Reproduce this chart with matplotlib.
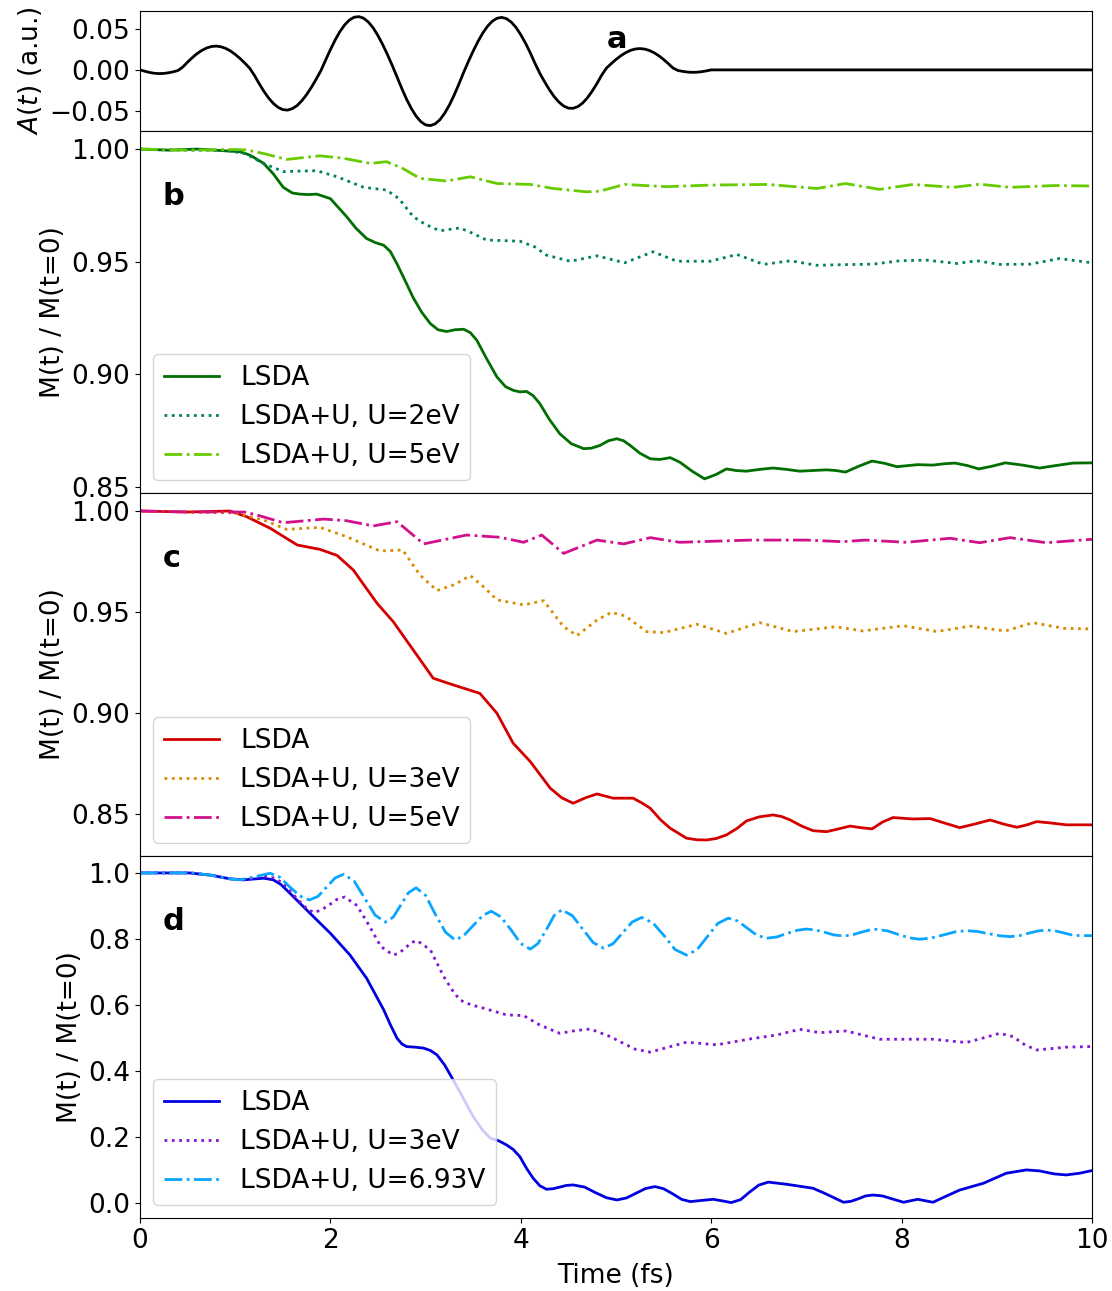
import matplotlib
matplotlib.use("Agg")
import matplotlib.pyplot as plt

# vector potential of the pump pulse (a.u.), sampled every 0.05 fs
pulseTime = [0.0, 0.05, 0.1, 0.15, 0.2, 0.25, 0.3, 0.35, 0.4, 0.45,
             0.5, 0.55, 0.6, 0.65, 0.7, 0.75, 0.8, 0.85, 0.9, 0.95,
             1.0, 1.05, 1.1, 1.15, 1.2, 1.25, 1.3, 1.35, 1.4, 1.45,
             1.5, 1.55, 1.6, 1.65, 1.7, 1.75, 1.8, 1.85, 1.9, 1.95,
             2.0, 2.05, 2.1, 2.15, 2.2, 2.25, 2.3, 2.35, 2.4, 2.45,
             2.5, 2.55, 2.6, 2.65, 2.7, 2.75, 2.8, 2.85, 2.9, 2.95,
             3.0, 3.05, 3.1, 3.15, 3.2, 3.25, 3.3, 3.35, 3.4, 3.45,
             3.5, 3.55, 3.6, 3.65, 3.7, 3.75, 3.8, 3.85, 3.9, 3.95,
             4.0, 4.05, 4.1, 4.15, 4.2, 4.25, 4.3, 4.35, 4.4, 4.45,
             4.5, 4.55, 4.6, 4.65, 4.7, 4.75, 4.8, 4.85, 4.9, 4.95,
             5.0, 5.05, 5.1, 5.15, 5.2, 5.25, 5.3, 5.35, 5.4, 5.45,
             5.5, 5.55, 5.6, 5.65, 5.7, 5.75, 5.8, 5.85, 5.9, 5.95,
             6.0, 10.0]
pulseA = [0.0, -0.0016, -0.0031, -0.0041, -0.0045, -0.0043, -0.0035, -0.0023, -0.0007, 0.0036,
          0.0095, 0.015, 0.0199, 0.0238, 0.0267, 0.0285, 0.029, 0.0282, 0.0262, 0.0231,
          0.0189, 0.014, 0.0084, 0.0024, -0.0063, -0.0164, -0.0259, -0.0341, -0.0408, -0.0456,
          -0.0484, -0.049, -0.0472, -0.0435, -0.0376, -0.0301, -0.0213, -0.0114, -0.001, 0.012,
          0.0247, 0.0364, 0.0467, 0.0549, 0.0608, 0.0642, 0.0649, 0.0629, 0.0582, 0.0511,
          0.0417, 0.0307, 0.0185, 0.0053, -0.0086, -0.0226, -0.0357, -0.047, -0.0563, -0.0631,
          -0.067, -0.0679, -0.0658, -0.0608, -0.0529, -0.0428, -0.0307, -0.0172, -0.0029, 0.0104,
          0.023, 0.0346, 0.0448, 0.0531, 0.0593, 0.0629, 0.064, 0.0624, 0.0582, 0.0517,
          0.0428, 0.0325, 0.0206, 0.0078, -0.0042, -0.0145, -0.0241, -0.0325, -0.0392, -0.044,
          -0.0466, -0.0468, -0.0447, -0.0404, -0.034, -0.0259, -0.0166, -0.0063, 0.0022, 0.0076,
          0.0127, 0.0172, 0.0209, 0.0237, 0.0254, 0.026, 0.0254, 0.0237, 0.0209, 0.0172,
          0.0127, 0.0076, 0.0022, -0.0007, -0.0018, -0.0026, -0.003, -0.0028, -0.0022, -0.0012,
          0.0, 0.0]

# panel b: normalised moment, t in fs
bLsdaT = [0, 0.3, 0.6, 0.9, 1.05, 1.155, 1.2, 1.3, 1.4, 1.505, 1.6, 1.68, 1.77, 1.856, 2.0,
          2.17, 2.27, 2.38, 2.47, 2.56, 2.63, 2.7, 2.78, 2.87, 2.96, 3.05, 3.13, 3.22, 3.31,
          3.4, 3.47, 3.54, 3.64, 3.75, 3.84, 3.92, 3.99, 4.06, 4.13, 4.2, 4.3, 4.41, 4.53,
          4.66, 4.74, 4.83, 4.92, 5.01, 5.08, 5.15, 5.25, 5.36, 5.46, 5.57, 5.67, 5.8, 5.93,
          6.05, 6.16, 6.26, 6.37, 6.51, 6.65, 6.79, 6.93, 7.07, 7.21, 7.31, 7.41, 7.55, 7.69,
          7.82, 7.95, 8.17, 8.33, 8.45, 8.56, 8.69, 8.81, 8.95, 9.09, 9.27, 9.45, 9.62, 9.8, 10.0]
bLsdaM = [1.0, 0.9995, 1.0, 0.9992, 0.9988, 0.9973, 0.9962, 0.9936, 0.989, 0.983, 0.9805,
          0.98, 0.9798, 0.98, 0.978, 0.97, 0.9648, 0.9603, 0.9585, 0.9573, 0.9545, 0.949, 0.942,
          0.934, 0.9275, 0.9225, 0.9198, 0.919, 0.9198, 0.92, 0.9185, 0.915, 0.907, 0.8988,
          0.8945, 0.8929, 0.8922, 0.8924, 0.8905, 0.887, 0.88, 0.8736, 0.8692, 0.867, 0.8672,
          0.8684, 0.8705, 0.8714, 0.8705, 0.8684, 0.865, 0.8625, 0.8622, 0.863, 0.861, 0.857,
          0.8536, 0.8555, 0.858, 0.8573, 0.857, 0.8578, 0.8584, 0.8578, 0.857, 0.8573, 0.8576,
          0.8573, 0.8566, 0.8592, 0.8615, 0.8605, 0.859, 0.8599, 0.8597, 0.8603, 0.8606, 0.8595,
          0.858, 0.8592, 0.8607, 0.8597, 0.8584, 0.8595, 0.8606, 0.8607]

bU2T = [0, 0.5, 0.9, 1.1, 1.3, 1.505, 1.856, 2.07, 2.35, 2.59, 2.72, 2.87, 3.0, 3.15, 3.36,
        3.5, 3.64, 3.99, 4.15, 4.27, 4.52, 4.8, 5.09, 5.39, 5.64, 5.99, 6.27, 6.55, 6.83,
        7.11, 7.4, 7.7, 7.98, 8.26, 8.58, 8.79, 9.03, 9.35, 9.66, 10.0]
bU2M = [1.0, 0.9995, 0.9995, 0.998, 0.9936, 0.99, 0.9904, 0.9877, 0.983, 0.9818, 0.978, 0.97,
        0.9665, 0.9637, 0.965, 0.9625, 0.9596, 0.9591, 0.9565, 0.9529, 0.9502, 0.9526, 0.9495,
        0.9544, 0.9502, 0.9502, 0.9532, 0.9488, 0.9504, 0.9484, 0.9487, 0.9489, 0.9504, 0.9507,
        0.9492, 0.9504, 0.9488, 0.9489, 0.9514, 0.9495]

bU5T = [0, 0.5, 1.0, 1.12, 1.3, 1.54, 1.89, 2.14, 2.42, 2.59, 2.76, 2.94, 3.22, 3.47, 3.75,
        4.1, 4.34, 4.69, 4.83, 5.09, 5.53, 5.99, 6.59, 7.11, 7.41, 7.77, 8.12, 8.54, 8.82,
        9.14, 9.6, 10.0]
bU5M = [1.0, 0.9995, 0.9998, 0.9996, 0.998, 0.9954, 0.997, 0.9959, 0.9936, 0.9944, 0.9914,
        0.987, 0.9858, 0.9877, 0.9847, 0.9843, 0.9825, 0.981, 0.9813, 0.9843, 0.9833, 0.984,
        0.9843, 0.9825, 0.9847, 0.9821, 0.9843, 0.983, 0.9844, 0.983, 0.9838, 0.9836]

# panel c
cLsdaT = [0, 0.5, 0.945, 1.12, 1.37, 1.65, 1.89, 2.07, 2.24, 2.49, 2.66, 2.87, 3.08, 3.29,
          3.57, 3.75, 3.92, 4.1, 4.31, 4.43, 4.55, 4.68, 4.8, 4.97, 5.18, 5.27, 5.36, 5.47,
          5.57, 5.74, 5.85, 5.95, 6.05, 6.16, 6.27, 6.37, 6.5, 6.65, 6.74, 6.83, 6.95, 7.07,
          7.21, 7.33, 7.46, 7.57, 7.69, 7.8, 7.91, 8.12, 8.3, 8.45, 8.61, 8.77, 8.93, 9.07,
          9.21, 9.31, 9.42, 9.57, 9.73, 10.0]
cLsdaM = [1.0, 0.9995, 1.0, 0.9972, 0.9914, 0.9832, 0.981, 0.978, 0.9708, 0.9543, 0.9452,
          0.9312, 0.9172, 0.9139, 0.9097, 0.8998, 0.885, 0.8759, 0.8627, 0.858, 0.8553, 0.858,
          0.8599, 0.8578, 0.8578, 0.8555, 0.8528, 0.847, 0.8429, 0.838, 0.8372, 0.8371, 0.8378,
          0.8396, 0.8428, 0.8465, 0.8485, 0.8495, 0.8487, 0.847, 0.844, 0.8417, 0.8412, 0.8425,
          0.844, 0.8432, 0.8426, 0.846, 0.8482, 0.8475, 0.8477, 0.8455, 0.8432, 0.845, 0.847,
          0.845, 0.8434, 0.8445, 0.8462, 0.8455, 0.8446, 0.8446]

cU3T = [0, 0.5, 1.0, 1.3, 1.54, 1.89, 2.17, 2.52, 2.76, 2.94, 3.12, 3.3, 3.47, 3.62, 3.75,
        4.03, 4.24, 4.45, 4.59, 4.8, 4.95, 5.1, 5.32, 5.5, 5.85, 6.16, 6.51, 6.86, 7.31, 7.59,
        8.02, 8.37, 8.72, 9.09, 9.38, 9.7, 10.0]
cU3M = [1.0, 0.9995, 0.999, 0.9955, 0.9909, 0.9919, 0.9873, 0.9802, 0.9807, 0.9683, 0.9606,
        0.9635, 0.968, 0.962, 0.956, 0.9535, 0.9556, 0.9427, 0.9383, 0.946, 0.9498, 0.948,
        0.9403, 0.9398, 0.9439, 0.9394, 0.9447, 0.9403, 0.9427, 0.9406, 0.9432, 0.9403, 0.943,
        0.9406, 0.9447, 0.9419, 0.9416]

cU5T = [0, 0.5, 1.1, 1.23, 1.505, 1.93, 2.17, 2.45, 2.7, 2.98, 3.43, 3.78, 4.03, 4.22, 4.45,
        4.8, 5.08, 5.36, 5.67, 6.41, 7.0, 7.38, 7.62, 8.05, 8.51, 8.82, 9.14, 9.52, 10.0]
cU5M = [1.0, 0.9995, 0.9995, 0.998, 0.9942, 0.996, 0.9952, 0.9926, 0.9947, 0.9837, 0.9881,
        0.987, 0.9845, 0.9881, 0.979, 0.9856, 0.9837, 0.9868, 0.9845, 0.9856, 0.9856, 0.9848,
        0.9856, 0.9845, 0.9865, 0.9843, 0.9868, 0.9843, 0.986]

# panel d
dLsdaT = [0, 0.52, 0.75, 0.945, 1.085, 1.3, 1.4, 1.48, 1.575, 1.785, 2.0, 2.205, 2.38, 2.56,
          2.63, 2.7, 2.75, 2.8, 2.89, 2.98, 3.05, 3.12, 3.2, 3.29, 3.4, 3.5, 3.6, 3.68, 3.77,
          3.85, 3.92, 3.99, 4.06, 4.13, 4.2, 4.27, 4.34, 4.41, 4.48, 4.55, 4.67, 4.78, 4.9,
          5.01, 5.11, 5.21, 5.31, 5.41, 5.5, 5.6, 5.69, 5.78, 5.9, 6.02, 6.12, 6.21, 6.31,
          6.4, 6.5, 6.6, 6.79, 7.07, 7.2, 7.39, 7.47, 7.55, 7.62, 7.7, 7.8, 7.95, 8.02, 8.17,
          8.33, 8.45, 8.61, 8.86, 9.1, 9.31, 9.45, 9.6, 9.73, 9.87, 10.0]
dLsdaM = [1.0, 1.0, 0.993, 0.982, 0.979, 0.984, 0.979, 0.965, 0.9385, 0.878, 0.817, 0.7515,
          0.681, 0.585, 0.54, 0.499, 0.482, 0.4737, 0.472, 0.469, 0.462, 0.4485, 0.418, 0.3727,
          0.315, 0.2616, 0.22, 0.196, 0.188, 0.1758, 0.162, 0.1403, 0.105, 0.0747, 0.052,
          0.0414, 0.043, 0.048, 0.053, 0.0545, 0.048, 0.0318, 0.0157, 0.009, 0.015, 0.0293,
          0.0436, 0.0495, 0.043, 0.0268, 0.0107, 0.004, 0.0075, 0.011, 0.006, 0.001, 0.0101,
          0.032, 0.054, 0.063, 0.0566, 0.0444, 0.028, 0.002, 0.005, 0.013, 0.021, 0.024, 0.021,
          0.008, 0.002, 0.011, 0.002, 0.018, 0.039, 0.0596, 0.09, 0.1, 0.097, 0.088, 0.0848,
          0.09, 0.098]

dU3T = [0, 0.52, 0.75, 0.945, 1.085, 1.3, 1.4, 1.505, 1.645, 1.73, 1.82, 1.9, 1.99, 2.07,
        2.15, 2.28, 2.41, 2.53, 2.66, 2.72, 2.79, 2.85, 2.91, 3.05, 3.19, 3.28, 3.36, 3.48,
        3.61, 3.85, 4.03, 4.2, 4.41, 4.57, 4.73, 4.94, 5.04, 5.2, 5.36, 5.55, 5.74, 6.06,
        6.41, 6.69, 6.93, 7.14, 7.42, 7.6, 7.77, 8.33, 8.68, 8.86, 9.03, 9.17, 9.3, 9.42,
        9.73, 10.0]
dU3M = [1.0, 1.0, 0.993, 0.982, 0.979, 0.991, 0.985, 0.969, 0.923, 0.898, 0.88, 0.887,
        0.9035, 0.92, 0.927, 0.901, 0.839, 0.777, 0.751, 0.757, 0.773, 0.789, 0.795, 0.767,
        0.686, 0.645, 0.615, 0.6, 0.59, 0.5697, 0.5677, 0.539, 0.514, 0.522, 0.527, 0.504,
        0.489, 0.466, 0.457, 0.472, 0.487, 0.479, 0.497, 0.509, 0.526, 0.516, 0.521, 0.508,
        0.496, 0.496, 0.486, 0.5, 0.514, 0.504, 0.478, 0.4636, 0.472, 0.474]

dU7T = [0, 0.55, 0.75, 0.9, 1.05, 1.2, 1.365, 1.47, 1.57, 1.68, 1.78, 1.87, 1.96, 2.05, 2.14,
        2.25, 2.36, 2.47, 2.58, 2.66, 2.74, 2.82, 2.9, 3.0, 3.1, 3.21, 3.31, 3.4, 3.5, 3.6,
        3.69, 3.79, 3.9, 4.0, 4.1, 4.18, 4.27, 4.35, 4.43, 4.54, 4.65, 4.76, 4.87, 4.97, 5.07,
        5.17, 5.27, 5.39, 5.51, 5.62, 5.74, 5.85, 5.96, 6.07, 6.18, 6.28, 6.38, 6.48, 6.58,
        6.69, 6.79, 6.9, 7.0, 7.1, 7.2, 7.29, 7.39, 7.48, 7.56, 7.65, 7.73, 7.85, 7.96, 8.08,
        8.19, 8.31, 8.44, 8.56, 8.68, 8.8, 8.91, 9.03, 9.14, 9.24, 9.33, 9.43, 9.52, 9.61,
        9.7, 9.78, 9.87, 10.0]
dU7M = [1.0, 1.0, 0.993, 0.984, 0.979, 0.988, 0.999, 0.987, 0.9585, 0.93, 0.918, 0.929,
        0.957, 0.985, 0.996, 0.975, 0.9235, 0.872, 0.851, 0.866, 0.903, 0.94, 0.955, 0.932,
        0.876, 0.82, 0.797, 0.8097, 0.8405, 0.871, 0.884, 0.867, 0.8265, 0.786, 0.769, 0.786,
        0.8285, 0.871, 0.888, 0.871, 0.83, 0.789, 0.772, 0.7856, 0.8185, 0.8514, 0.865, 0.848,
        0.808, 0.768, 0.751, 0.767, 0.807, 0.847, 0.863, 0.854, 0.8325, 0.811, 0.802, 0.806,
        0.816, 0.826, 0.83, 0.827, 0.8195, 0.812, 0.809, 0.812, 0.819, 0.826, 0.829, 0.8246,
        0.814, 0.8034, 0.799, 0.8028, 0.812, 0.8212, 0.825, 0.8224, 0.816, 0.8096, 0.807,
        0.81, 0.817, 0.824, 0.827, 0.8245, 0.8185, 0.8125, 0.81, 0.81]

plt.rcParams["font.size"] = 19

fig = plt.figure(figsize=(11.12, 12.91), dpi=100)

left, width = 0.1259, 0.8561
axPulse = fig.add_axes([left, 0.8985, width, 0.0930])
axB = fig.add_axes([left, 0.6181, width, 0.2804])
axC = fig.add_axes([left, 0.3370, width, 0.2811])
axD = fig.add_axes([left, 0.0566, width, 0.2804])

# pulse panel
axPulse.plot(pulseTime, pulseA, color="black", lw=2)
axPulse.set_ylim(-0.0745, 0.0718)
axPulse.set_yticks([-0.05, 0.0, 0.05])
axPulse.set_ylabel(r"$A(t)$ (a.u.)")
axPulse.text(0.49, 0.76, "a", transform=axPulse.transAxes, fontsize=22,
             fontweight="bold", ha="left", va="center")

panels = [
    (axB, "b", (0.8473, 1.0080), [0.85, 0.90, 0.95, 1.00],
     [(bLsdaT, bLsdaM, "#006e00", "-", "LSDA"),
      (bU2T, bU2M, "#008062", ":", "LSDA+U, U=2eV"),
      (bU5T, bU5M, "#66cc00", "-.", "LSDA+U, U=5eV")]),
    (axC, "c", (0.8292, 1.0089), [0.85, 0.90, 0.95, 1.00],
     [(cLsdaT, cLsdaM, "#d40000", "-", "LSDA"),
      (cU3T, cU3M, "#d88a00", ":", "LSDA+U, U=3eV"),
      (cU5T, cU5M, "#d2108c", "-.", "LSDA+U, U=5eV")]),
    (axD, "d", (-0.0455, 1.0515), [0.0, 0.2, 0.4, 0.6, 0.8, 1.0],
     [(dLsdaT, dLsdaM, "#0000e0", "-", "LSDA"),
      (dU3T, dU3M, "#8414d4", ":", "LSDA+U, U=3eV"),
      (dU7T, dU7M, "#0aa5ff", "-.", "LSDA+U, U=6.93V")]),
]

for ax, tag, ylim, yticks, series in panels:
    for t, m, col, ls, lab in series:
        ax.plot(t, m, color=col, ls=ls, lw=2, label=lab)
    ax.set_ylim(*ylim)
    ax.set_yticks(yticks)
    ax.set_ylabel("M(t) / M(t=0)")
    ax.legend(loc="lower left", handlelength=2.1)
    ax.text(0.024, 0.82, tag, transform=ax.transAxes, fontsize=22,
            fontweight="bold", ha="left", va="center")

for ax in [axPulse, axB, axC, axD]:
    ax.set_xlim(0, 10)
    ax.set_xticks([0, 2, 4, 6, 8, 10])
for ax in [axPulse, axB, axC]:
    ax.tick_params(axis="x", bottom=False, labelbottom=False)

axD.set_xlabel("Time (fs)", labelpad=7)

fig.savefig("out.png", dpi=100)
